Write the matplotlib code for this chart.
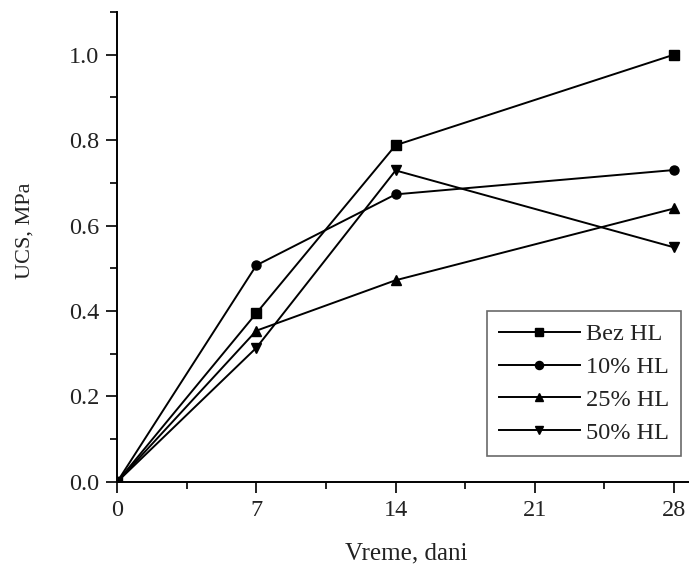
import matplotlib
matplotlib.use("Agg")
import matplotlib.pyplot as plt
from matplotlib.ticker import MultipleLocator, FormatStrFormatter

plt.rcParams['font.family'] = ['Liberation Serif', 'DejaVu Serif']

days = [0, 7, 14, 28]
bez_hl = [0.0, 0.395, 0.788, 1.0]
hl_10 = [0.0, 0.507, 0.673, 0.730]
hl_25 = [0.0, 0.354, 0.472, 0.640]
hl_50 = [0.0, 0.314, 0.729, 0.549]

series = [
    (bez_hl, 's', 'Bez HL'),
    (hl_10, 'o', '10% HL'),
    (hl_25, '^', '25% HL'),
    (hl_50, 'v', '50% HL'),
]

fig = plt.figure(figsize=(6.89, 5.67), dpi=100)
ax = fig.add_axes([0.170, 0.150, 0.830, 0.829])

for vals, mk, lab in series:
    ax.plot(days, vals, color='black', lw=1.4, marker=mk, markersize=6.5,
            label=lab)

ax.set_xlim(0, 28.75)
ax.set_ylim(0, 1.1)
ax.xaxis.set_major_locator(MultipleLocator(7))
ax.xaxis.set_minor_locator(MultipleLocator(3.5))
ax.yaxis.set_major_locator(MultipleLocator(0.2))
ax.yaxis.set_minor_locator(MultipleLocator(0.1))
ax.yaxis.set_major_formatter(FormatStrFormatter('%.1f'))

for s in ['top', 'right']:
    ax.spines[s].set_visible(False)
for s in ['left', 'bottom']:
    ax.spines[s].set_linewidth(1.4)

ax.tick_params(which='major', direction='out', length=8, width=1.4,
               labelsize=17.5, colors='#222222', pad=5)
ax.tick_params(which='minor', direction='out', length=5, width=1.4,
               colors='#222222')

ax.set_xlabel('Vreme, dani', fontsize=18, color='#222222', va='top')
ax.set_ylabel('UCS, MPa', fontsize=16, color='#222222')
ax.xaxis.set_label_coords(0.505, -0.128)
ax.yaxis.set_label_coords(-0.145, 0.534)

leg = ax.legend(loc='lower right', bbox_to_anchor=(0.986, 0.055),
                borderaxespad=0.0, fontsize=17.5, frameon=True,
                fancybox=False, edgecolor='#444444', handlelength=3.3,
                handletextpad=0.25, labelspacing=0.45, borderpad=0.5,
                markerscale=0.9)
leg.get_frame().set_linewidth(1.2)
for t in leg.get_texts():
    t.set_color('#222222')

fig.savefig('out.png', dpi=100)
